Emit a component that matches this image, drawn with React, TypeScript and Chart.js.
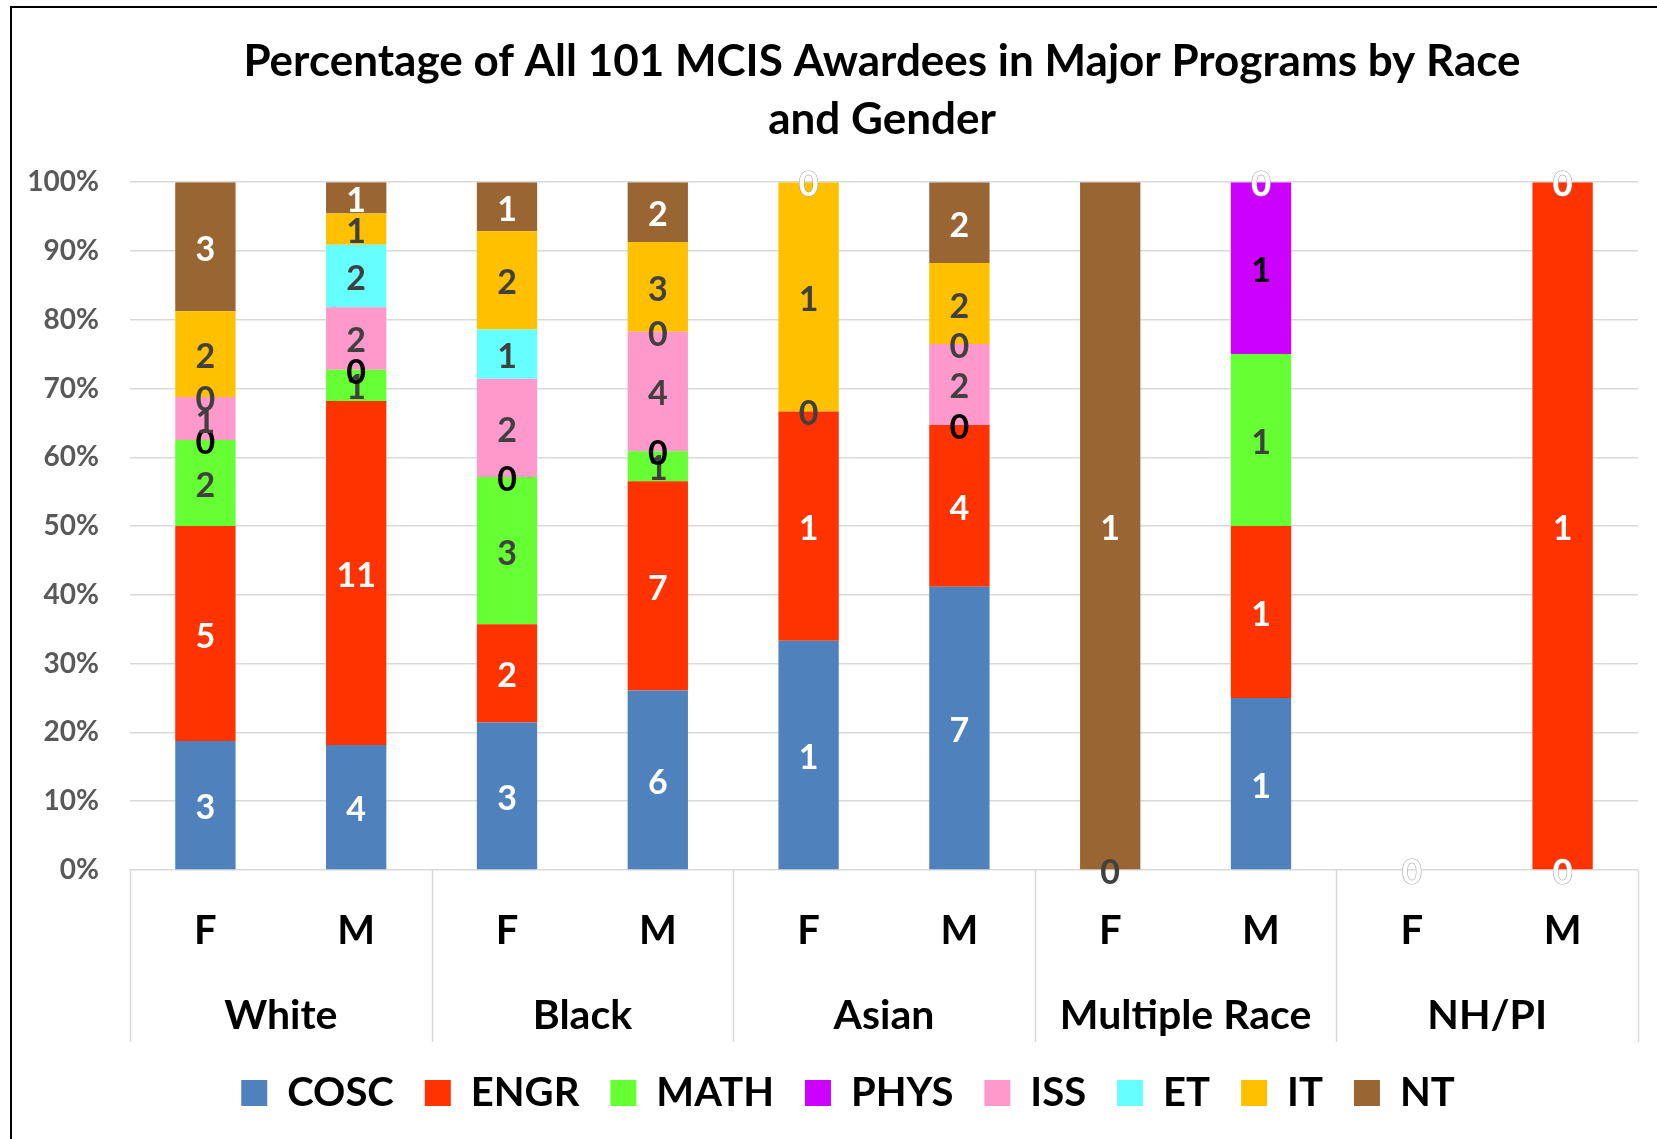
import React, { useEffect, useRef } from "react";
import { Chart, registerables } from "chart.js";

Chart.register(...registerables);

const titleLines = ["Percentage of All 101 MCIS Awardees in Major Programs by Race", "and Gender"];
const genders = ["F", "M", "F", "M", "F", "M", "F", "M", "F", "M"];
const races = ["White", "Black", "Asian", "Multiple Race", "NH/PI"];
const yTicks = [0, 10, 20, 30, 40, 50, 60, 70, 80, 90, 100];

const seriesNames = ["COSC", "ENGR", "MATH", "PHYS", "ISS", "ET", "IT", "NT"];
const COSC = [3, 4, 3, 6, 1, 7, null, 1, 0, 0];
const ENGR = [5, 11, 2, 7, 1, 4, null, 1, null, 1];
const MATH = [2, 1, 3, 1, 0, null, 0, 1, null, null];
const PHYS = [0, 0, 0, 0, null, 0, null, 1, null, null];
const ISS = [1, 2, 2, 4, null, 2, null, null, null, null];
const ET = [0, 2, 1, 0, null, 0, null, null, null, null];
const IT = [2, 1, 2, 3, 1, 2, null, null, null, null];
const NT = [3, 1, 1, 2, 0, 2, 1, 0, null, 0];

const seriesCounts: (number | null)[][] = [COSC, ENGR, MATH, PHYS, ISS, ET, IT, NT];
const seriesColors = ["#4F81BD", "#FF3300", "#66FF33", "#CC00FF", "#FF99CC", "#66FFFF", "#FFC000", "#996633"];
const labelColors = ["#FFFFFF", "#FFFFFF", "#404040", "#000000", "#404040", "#404040", "#404040", "#FFFFFF"];

const FONT = "Lato, 'Open Sans', sans-serif";

export default function App() {
  const ref = useRef<HTMLCanvasElement | null>(null);

  useEffect(() => {
    document.body.style.margin = "0";
    document.body.style.overflow = "hidden";
    const canvas = ref.current;
    if (!canvas) return;

    const totals = genders.map((_, j) =>
      seriesCounts.reduce((s, arr) => s + (arr[j] ?? 0), 0)
    );

    const datasets = seriesNames.map((name, i) => ({
      label: name,
      data: seriesCounts[i].map((v, j) =>
        v === null ? null : totals[j] ? (v / totals[j]) * 100 : 0
      ),
      backgroundColor: seriesColors[i],
      borderWidth: 0,
      barPercentage: 0.4,
      categoryPercentage: 1.0,
    }));

    const shiftPlugin = {
      id: "shiftBoxes",
      afterLayout(chart: any) {
        const tb = chart.titleBlock;
        if (tb) {
          tb.left += 63;
          tb.right += 63;
        }
        const lg = chart.legend;
        if (lg) {
          lg.left += 29;
          lg.right += 29;
        }
      },
    };

    const decorPlugin = {
      id: "decor",
      beforeDraw(chart: any) {
        const ctx = chart.ctx;
        ctx.save();
        ctx.fillStyle = "#FFFFFF";
        ctx.fillRect(0, 0, chart.width, chart.height);
        ctx.fillStyle = "#000000";
        ctx.fillRect(10, 6, chart.width, 2);
        ctx.fillRect(10, 6, 2, chart.height);
        ctx.restore();
      },
      afterDraw(chart: any) {
        const ctx = chart.ctx;
        const xs = chart.scales.x;
        const x2 = chart.scales.x2;
        const gw = (xs.right - xs.left) / races.length;
        ctx.save();
        ctx.strokeStyle = "#D9D9D9";
        ctx.lineWidth = 1.5;
        for (let g = 0; g <= races.length; g++) {
          const px = Math.round(xs.left + g * gw) + 0.5;
          ctx.beginPath();
          ctx.moveTo(px, xs.top);
          ctx.lineTo(px, x2.bottom);
          ctx.stroke();
        }
        ctx.restore();
      },
    };

    const labelPlugin = {
      id: "barLabels",
      afterDatasetsDraw(chart: any) {
        const ctx = chart.ctx;
        ctx.save();
        ctx.font = `bold 34px ${FONT}`;
        ctx.textAlign = "center";
        ctx.textBaseline = "middle";
        seriesCounts.forEach((arr, i) => {
          const meta = chart.getDatasetMeta(i);
          meta.data.forEach((el: any, j: number) => {
            const v = arr[j];
            if (v === null || v === undefined) return;
            const x = el.x;
            const y = (el.y + el.base) / 2 + 3;
            const txt = String(v);
            if (v === 0 && labelColors[i] === "#FFFFFF") {
              ctx.lineWidth = 1.2;
              ctx.strokeStyle = "#A6A6A6";
              ctx.strokeText(txt, x, y);
            }
            ctx.fillStyle = labelColors[i];
            ctx.fillText(txt, x, y);
          });
        });
        ctx.restore();
      },
    };

    const chart = new Chart(canvas, {
      type: "bar",
      data: { labels: genders, datasets },
      plugins: [shiftPlugin, decorPlugin, labelPlugin],
      options: {
        animation: false,
        responsive: false,
        maintainAspectRatio: false,
        layout: { padding: { left: 0, right: 19, top: 0, bottom: 16 } },
        plugins: {
          title: {
            display: true,
            text: titleLines,
            color: "#000000",
            font: { family: FONT, size: 44, weight: "bold", lineHeight: 1.32 },
            padding: { top: 33, bottom: 33 },
          },
          legend: {
            display: true,
            position: "bottom",
            labels: {
              boxWidth: 26,
              boxHeight: 26,
              padding: 31,
              color: "#000000",
              font: { family: FONT, size: 40, weight: "bold" },
            },
          },
          tooltip: { enabled: false },
        },
        scales: {
          x: {
            type: "category",
            stacked: true,
            offset: true,
            weight: 0,
            grid: { display: false },
            border: { display: false },
            ticks: {
              color: "#000000",
              padding: 29,
              maxRotation: 0,
              autoSkip: false,
              font: { family: FONT, size: 40, weight: "bold" },
            },
            afterFit(scale: any) {
              scale.height = 87;
            },
          },
          x2: {
            type: "category",
            labels: races,
            position: "bottom",
            offset: true,
            weight: 1,
            grid: { display: false },
            border: { display: false },
            ticks: {
              color: "#000000",
              padding: 26,
              maxRotation: 0,
              autoSkip: false,
              font: { family: FONT, size: 41, weight: "bold" },
            },
            afterFit(scale: any) {
              scale.height = 85;
            },
          },
          y: {
            stacked: true,
            min: 0,
            max: 100,
            afterBuildTicks(scale: any) {
              scale.ticks = yTicks.map((v) => ({ value: v }));
            },
            grid: { color: "#D9D9D9", lineWidth: 1.5, drawTicks: false },
            border: { display: false },
            ticks: {
              color: "#595959",
              padding: 31,
              font: { family: FONT, size: 28, weight: "bold" },
              callback: (v: any) => `${v}%`,
            },
            afterFit(scale: any) {
              scale.width = 130;
            },
          },
        },
      },
    } as any);

    return () => chart.destroy();
  }, []);

  return (
    <canvas
      ref={ref}
      width={1657}
      height={1139}
      style={{ display: "block", width: "1657px", height: "1139px" }}
    />
  );
}
